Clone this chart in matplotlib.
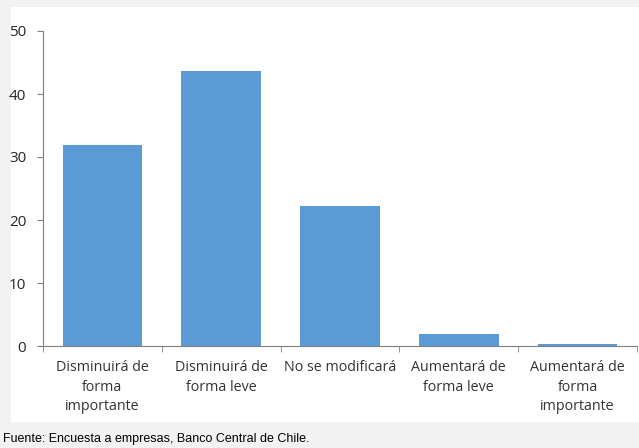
import matplotlib.pyplot as plt
import numpy as np
from matplotlib.patches import Rectangle

# data
categories = ["Disminuirá de\nforma\nimportante", "Disminuirá de\nforma leve",
              "No se modificará", "Aumentará de\nforma leve",
              "Aumentará de\nforma\nimportante"]
values = [31.9, 43.6, 22.2, 1.9, 0.3]
y_ticks = [0, 10, 20, 30, 40, 50]

plt.rcParams['font.family'] = ['Open Sans', 'DejaVu Sans']

fig = plt.figure(figsize=(6.39, 4.48), dpi=100, facecolor='#f2f2f2')
# white panel behind the chart
fig.patches.append(Rectangle((11 / 639, 1 - 422 / 448), 628 / 639, 415 / 448,
                             transform=fig.transFigure, facecolor='white',
                             edgecolor='none', zorder=-10))

ax = fig.add_axes([43 / 639, 1 - 346 / 448, 594 / 639, 315 / 448])
ax.set_facecolor('none')

x = np.arange(len(categories))
ax.bar(x, values, width=0.67, color='#5b9bd5')

ax.set_xlim(-0.5, len(categories) - 0.5)
ax.set_ylim(0, 50)
ax.set_yticks(y_ticks)
ax.set_xticks(x)
ax.set_xticklabels(categories, fontsize=10.3, color='#333333', linespacing=1.42)
ax.set_xticks(np.arange(len(categories) + 1) - 0.5, minor=True)
ax.tick_params(axis='x', which='major', length=0, pad=10)
ax.tick_params(axis='x', which='minor', length=4, color='#7f7f7f')
ax.tick_params(axis='y', length=4, color='#7f7f7f', labelsize=11,
               labelcolor='#262626', pad=8)

for side in ['top', 'right']:
    ax.spines[side].set_visible(False)
for side in ['left', 'bottom']:
    ax.spines[side].set_color('#7f7f7f')

fig.text(3 / 639, 1 - 439 / 448, "Fuente: Encuesta a empresas, Banco Central de Chile.",
         fontsize=9, color='black', va='center', ha='left', family=['Liberation Sans'])

plt.savefig("out.png", dpi=100, facecolor=fig.get_facecolor())
